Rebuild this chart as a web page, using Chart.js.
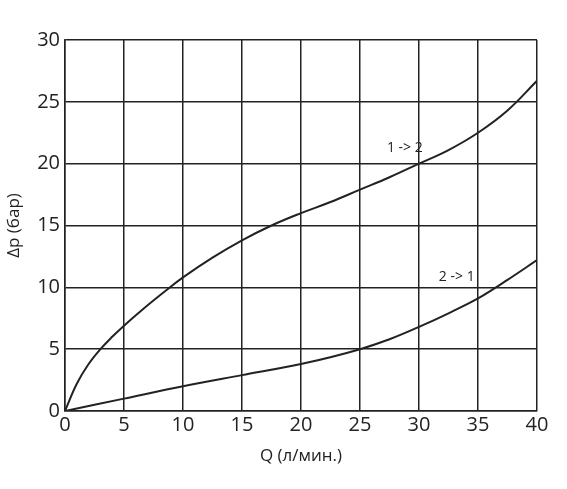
<!DOCTYPE html>
<html>
<head>
<meta charset="utf-8">
<script src="https://cdn.jsdelivr.net/npm/chart.js@4/dist/chart.umd.min.js"></script>
<style>
  html, body { margin: 0; padding: 0; background: #fff; }
</style>
</head>
<body>
<canvas id="graphCanvas" width="567" height="489"></canvas>
<script>
// flow Q (л/мин.) and pressure drop (бар)
var flow12 = [0, 1, 2, 3, 4, 5, 6.5, 8.5, 10, 12.5, 15, 17.5, 20, 22.5, 25, 27.5, 30, 32.5, 35, 37.5, 40];
var dp12   = [0, 2.2, 3.8, 5.0, 6.0, 6.9, 8.15, 9.7, 10.8, 12.4, 13.8, 15.0, 16.0, 16.9, 17.9, 18.9, 20.0, 21.1, 22.5, 24.3, 26.7];
var flow21 = [0, 5, 10, 15, 20, 25, 27.5, 30, 32.5, 35, 37.5, 40];
var dp21   = [0, 1.0, 2.0, 2.9, 3.8, 5.0, 5.8, 6.8, 7.9, 9.1, 10.6, 12.2];
var curveLabels = ['1 -> 2', '2 -> 1'];
var labelAt = [[28.8, 21.3], [33.2, 10.8]];

function toPoints(xs, ys) {
  var pts = [];
  for (var i in xs) {
    pts.push({x: xs[i], y: ys[i]});
  }
  return pts;
}

var fontFam = '"Open Sans", "Noto Sans", sans-serif';

// writes the curve names next to the lines
var curveText = {
  id: 'curveText',
  afterDatasetsDraw: function (chart) {
    var ctx = chart.ctx;
    var xs = chart.scales.x, ys = chart.scales.y;
    ctx.save();
    ctx.font = '14px ' + fontFam;
    ctx.fillStyle = '#222';
    ctx.textAlign = 'center';
    ctx.textBaseline = 'middle';
    for (var i = 0; i < curveLabels.length; i++) {
      ctx.fillText(curveLabels[i], xs.getPixelForValue(labelAt[i][0]), ys.getPixelForValue(labelAt[i][1]));
    }
    ctx.restore();
  }
};

var chartdata = {
  datasets: [
    {
      label: curveLabels[0],
      data: toPoints(flow12, dp12),
      borderColor: '#222222',
      borderWidth: 2,
      pointRadius: 0,
      tension: 0.4
    },
    {
      label: curveLabels[1],
      data: toPoints(flow21, dp21),
      borderColor: '#222222',
      borderWidth: 2,
      pointRadius: 0,
      cubicInterpolationMode: 'monotone'
    }
  ]
};

var graphTarget = document.getElementById('graphCanvas');

var lineGraph = new Chart(graphTarget, {
  type: 'line',
  data: chartdata,
  plugins: [curveText],
  options: {
    responsive: false,
    animation: false,
    layout: { padding: { top: 40, right: 30, left: 0, bottom: 19 } },
    plugins: { legend: { display: false }, tooltip: { enabled: false } },
    scales: {
      x: {
        type: 'linear',
        min: 0, max: 40,
        afterFit: function (s) { s.height = 59; },
        ticks: { stepSize: 5, color: '#222', padding: 2, font: { size: 20, family: fontFam } },
        grid: { color: '#222', lineWidth: 1.5, drawTicks: false },
        border: { color: '#222', width: 1.5 },
        title: { display: true, text: 'Q (л/мин.)', color: '#222', font: { size: 17, family: fontFam }, padding: { top: 4 } }
      },
      y: {
        min: 0, max: 30,
        afterFit: function (s) { s.width = 65; },
        ticks: { stepSize: 5, color: '#222', padding: 5, font: { size: 20, family: fontFam } },
        grid: { color: '#222', lineWidth: 1.5, drawTicks: false },
        border: { color: '#222', width: 1.5 },
        title: { display: true, text: 'Δp (бар)', color: '#222', font: { size: 17, family: fontFam }, padding: { bottom: 0 } }
      }
    }
  }
});
</script>
</body>
</html>
